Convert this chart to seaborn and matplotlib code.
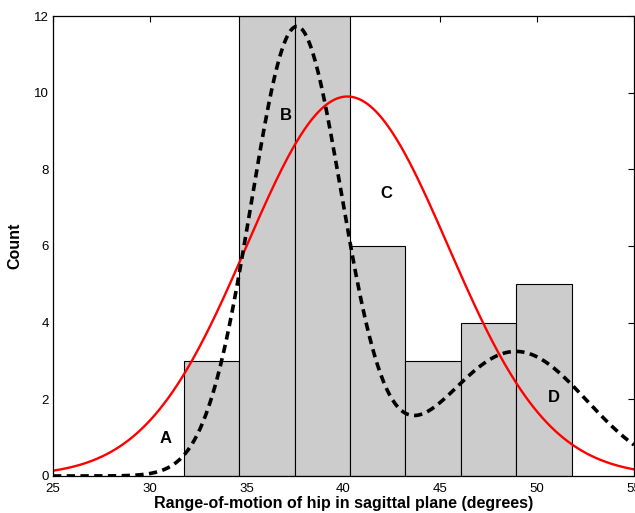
import numpy as np
import pandas as pd
import matplotlib
matplotlib.use("Agg")
import matplotlib.pyplot as plt
import seaborn as sns

# Histogram data (bin edges in degrees, counts)
bin_edges = [31.76, 34.62, 37.48, 40.34, 43.20, 46.06, 48.92, 51.78]
counts = [3, 12, 12, 6, 3, 4, 5]

# Fitted single normal (curve C): amplitude, mean, sd
normal_fit = {"amp": 9.9, "mu": 40.2, "sd": 5.2}
# Fitted two-component mixture (dashed curve): amplitudes, means, sds
mix_amp = [11.7, 3.25]
mix_mu = [37.58, 48.9]
mix_sd = [2.35, 3.66]

# Annotation labels
labels = ["A", "B", "C", "D"]
label_x = [30.83, 37.03, 42.2, 50.87]
label_y = [0.99, 9.4, 7.36, 2.06]

x_ticks = [25, 30, 35, 40, 45, 50, 55]
y_ticks = [0, 2, 4, 6, 8, 10, 12]

sns.set_theme(style="white")
plt.rcParams["font.family"] = ["Liberation Sans", "DejaVu Sans"]
plt.rcParams["text.color"] = "black"
plt.rcParams["axes.labelcolor"] = "black"

fig = plt.figure(figsize=(6.35, 5.13), dpi=100)
ax = fig.add_axes([53 / 635, 37 / 513, 581 / 635, 460 / 513])

centers = [(bin_edges[i] + bin_edges[i + 1]) / 2 for i in range(len(counts))]
hist_df = pd.DataFrame({"x": centers, "w": counts})
sns.histplot(data=hist_df, x="x", weights="w", bins=bin_edges, ax=ax,
             color="#cccccc", edgecolor="black", linewidth=0.8, alpha=1.0)

xs = np.linspace(25, 55, 400)
red = normal_fit["amp"] * np.exp(-0.5 * ((xs - normal_fit["mu"]) / normal_fit["sd"]) ** 2)
mix = sum(a * np.exp(-0.5 * ((xs - m) / s) ** 2) for a, m, s in zip(mix_amp, mix_mu, mix_sd))
curve_df = pd.DataFrame({"x": xs, "normal": red, "mixture": mix})

sns.lineplot(data=curve_df, x="x", y="normal", ax=ax, color="red", linewidth=1.7)
sns.lineplot(data=curve_df, x="x", y="mixture", ax=ax, color="black",
             linewidth=2.6, linestyle=(0, (2.3, 1.5)))

for t, lx, ly in zip(labels, label_x, label_y):
    ax.text(lx, ly, t, fontsize=12, fontweight="bold", ha="center", va="center",
            color="black")

ax.set_xlim(25, 55)
ax.set_ylim(0, 12)
ax.set_xticks(x_ticks)
ax.set_yticks(y_ticks)
ax.tick_params(direction="in", length=4, width=0.8, top=True, right=True,
               labelsize=9.5, colors="black", pad=3)
ax.tick_params(axis="x", pad=5)
for sp in ax.spines.values():
    sp.set_color("black")
    sp.set_linewidth(0.9)
ax.set_xlabel("Range-of-motion of hip in sagittal plane (degrees)",
              fontsize=11.5, fontweight="bold", labelpad=1, color="black")
ax.set_ylabel("Count", fontsize=11.5, fontweight="bold", labelpad=8, color="black")

fig.savefig("out.png", dpi=100)
